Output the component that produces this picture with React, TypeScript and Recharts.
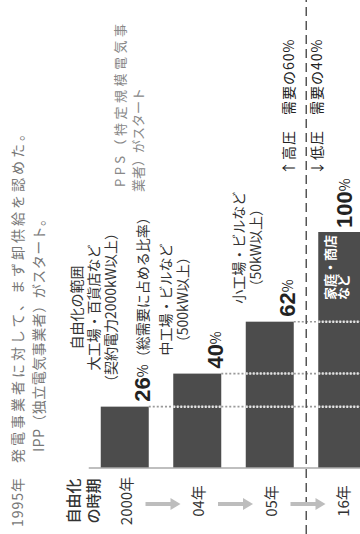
import React from "react";
import { BarChart, Bar, XAxis, YAxis, ReferenceLine } from "recharts";

// 自由化の時期と、総需要に占める自由化範囲の比率(%)
const years = ["2000年", "04年", "05年", "16年"];
const shares = [26, 40, 62, 100];
const targets = [
  ["自由化の範囲", "大工場・百貨店など", "（契約電力2000kW以上）"],
  ["中工場・ビルなど", "（500kW以上）"],
  ["小工場・ビルなど", "（50kW以上）"],
  ["家庭・商店", "など"],
];
const shareNote = "（総需要に占める比率）";
const voltageNotes = ["↑高圧　需要の60%", "↓低圧　需要の40%"];
const headNotes = ["1995年", "発電事業者に対して、まず卸供給を認めた。", "IPP（独立電気事業者）がスタート。"];
const ppsNotes = ["PPS（特定規模電気事", "業者）がスタート"];
const timeLabel = ["自由化", "の時期"];

// each bar is stacked from the step between shares
const data = years.map((year, i) => {
  const row: Record<string, string | number> = { year };
  shares.forEach((v, k) => {
    if (k <= i) row[`s${k}`] = v - (k ? shares[k - 1] : 0);
  });
  return row;
});

// layout drawn unrotated (534 x 360), then turned -90deg like the print
const W = 534;
const H = 360;
const CH = 400;
const BAR = 48;
const BAND = 72.5;
const GAP = (BAND - BAR) / 2;
const LABEL_X = 33;
const BAR_FILL = "#4c4c4c";
const FONT = '"Noto Sans CJK JP", "Noto Sans", sans-serif';
const NUM_FONT = '"Liberation Sans", Arial, sans-serif';

const estW = (s: string, fs: number) =>
  [...s].reduce((w, c) => w + (c.charCodeAt(0) > 0x2000 ? fs : fs * 0.6), 0);

const dotted = (x: number, y1: number, y2: number, inBar: boolean, key: string) => (
  <line
    key={key}
    x1={x}
    x2={x}
    y1={y1}
    y2={y2}
    stroke={inBar ? "#e4e4e4" : "#9a9a9a"}
    strokeWidth={inBar ? 2.5 : 1.6}
    strokeDasharray={inBar ? "2 1.5" : "2 2"}
  />
);

const makeShape = (k: number) => (props: any) => {
  const { x, y, width, height, payload } = props;
  const idx = years.indexOf(payload.year);
  if (k > idx || !height) return null;
  const xe = x + width;
  const yb = y + height;
  const els: React.ReactNode[] = [
    <rect key="r" x={x} y={y} width={width} height={height} fill={BAR_FILL} />,
  ];
  if (k > 0) {
    els.push(dotted(x, y, yb, true, "in"));
    els.push(dotted(x, y - GAP, y, false, "up"));
    els.push(dotted(x, yb, yb + GAP, false, "dn"));
  }
  if (k === idx) {
    const lines = targets[idx];
    if (idx < years.length - 1) {
      els.push(dotted(xe, yb, yb + GAP, false, "end"));
      const pctY = yb - 6;
      els.push(
        <text key="pct" x={xe + 5} y={pctY + 7.5} fill="#222">
          <tspan fontSize={22} fontWeight={700} fontFamily={NUM_FONT}>{shares[idx]}</tspan>
          <tspan fontSize={14} dy={-2}>%</tspan>
          {idx === 0 && (
            <tspan fontSize={14} dy={0} fill="#333">{shareNote}</tspan>
          )}
        </text>
      );
      const maxW = Math.max(...lines.map((s) => estW(s, 14)));
      const cx = xe + 18 + maxW / 2;
      lines.forEach((s, j) => {
        els.push(
          <text
            key={`n${j}`}
            x={cx}
            y={pctY - 33 - 17 * (lines.length - 1 - j)}
            textAnchor="middle"
            dominantBaseline="central"
            fontSize={14}
            fill="#333"
          >
            {s}
          </text>
        );
      });
    } else {
      els.push(
        <text key="pct" x={xe + 4} y={y + 26 + 7.5} fill="#222">
          <tspan fontSize={22} fontWeight={700} fontFamily={NUM_FONT}>{shares[idx]}</tspan>
          <tspan fontSize={14} dy={-2}>%</tspan>
        </text>
      );
      const sx = xe - 3 - estW(lines[0], 13);
      lines.forEach((s, j) => {
        els.push(
          <text
            key={`w${j}`}
            x={sx}
            y={y + 11 + 13 * j}
            dominantBaseline="central"
            fontSize={13}
            fontWeight={700}
            fill="#fff"
          >
            {s}
          </text>
        );
      });
    }
  }
  return <g>{els}</g>;
};

const YearTick = (props: any) => {
  const { y, payload, index } = props;
  const ax = LABEL_X - 3;
  return (
    <g>
      {index > 0 && (
        <g>
          <line x1={ax} x2={ax} y1={y - 52} y2={y - 26} stroke="#bdbdbd" strokeWidth={4} />
          <path d={`M${ax - 6},${y - 27} L${ax + 6},${y - 27} L${ax},${y - 17} Z`} fill="#bdbdbd" />
        </g>
      )}
      <text x={LABEL_X} y={y} textAnchor="middle" dominantBaseline="central" fontSize={15} fill="#333">
        {payload.value}
      </text>
    </g>
  );
};

const Separator = (props: any) => {
  const y = props.y1;
  return (
    <g>
      <line x1={0} x2={W} y1={y} y2={y} stroke="#555" strokeWidth={1.5} strokeDasharray="9 5" />
      <text x={359} y={y - 18} dominantBaseline="central" fontSize={14} fill="#222" letterSpacing={1}>
        {voltageNotes[0]}
      </text>
      <text x={359} y={y + 10} dominantBaseline="central" fontSize={14} fill="#222" letterSpacing={1}>
        {voltageNotes[1]}
      </text>
    </g>
  );
};

export default function App() {
  return (
    <div
      style={{
        position: "fixed",
        left: 0,
        top: 0,
        width: H,
        height: W,
        overflow: "hidden",
        background: "#fff",
        fontFamily: FONT,
      }}
    >
      <div
        style={{
          position: "absolute",
          left: 0,
          top: 0,
          width: W,
          height: H,
          transformOrigin: "0 0",
          transform: `translate(0px, ${W}px) rotate(-90deg)`,
        }}
      >
        <BarChart
          width={W}
          height={CH}
          layout="vertical"
          data={data}
          barSize={BAR}
          margin={{ top: 88.75, right: 232, bottom: CH - 88.75 - BAND * years.length, left: 0 }}
        >
          <XAxis type="number" domain={[0, 100]} hide />
          <YAxis
            type="category"
            dataKey="year"
            width={66}
            interval={0}
            tickLine={false}
            axisLine={{ stroke: "#aaa", strokeWidth: 1.5 }}
            tick={<YearTick />}
          />
          {shares.map((_, k) => (
            <Bar
              key={k}
              dataKey={`s${k}`}
              stackId="a"
              fill={BAR_FILL}
              isAnimationActive={false}
              shape={makeShape(k)}
            />
          ))}
          <ReferenceLine y={years[3]} position="start" shape={(p: any) => <Separator {...p} />} />
        </BarChart>
        <svg
          width={W}
          height={H}
          style={{ position: "absolute", left: 0, top: 0, pointerEvents: "none" }}
        >
          <text x={7} y={17} dominantBaseline="central" fontSize={14} fill="#777" letterSpacing={1}>
            {headNotes[0]}
          </text>
          <text x={71} y={17} dominantBaseline="central" fontSize={14} fill="#777" letterSpacing={3}>
            {headNotes[1]}
          </text>
          <text x={82} y={38} dominantBaseline="central" fontSize={14} fill="#777" letterSpacing={0.5}>
            {headNotes[2]}
          </text>
          <text x={347} y={119} dominantBaseline="central" fontSize={13} fill="#888" letterSpacing={3.5}>
            {ppsNotes[0]}
          </text>
          <text x={342} y={137} dominantBaseline="central" fontSize={13} fill="#888">
            {ppsNotes[1]}
          </text>
          {timeLabel.map((s, i) => (
            <text
              key={s}
              x={LABEL_X}
              y={72 + 20 * i}
              textAnchor="middle"
              dominantBaseline="central"
              fontSize={15}
              fontWeight={500}
              fill="#333"
            >
              {s}
            </text>
          ))}
        </svg>
      </div>
    </div>
  );
}
